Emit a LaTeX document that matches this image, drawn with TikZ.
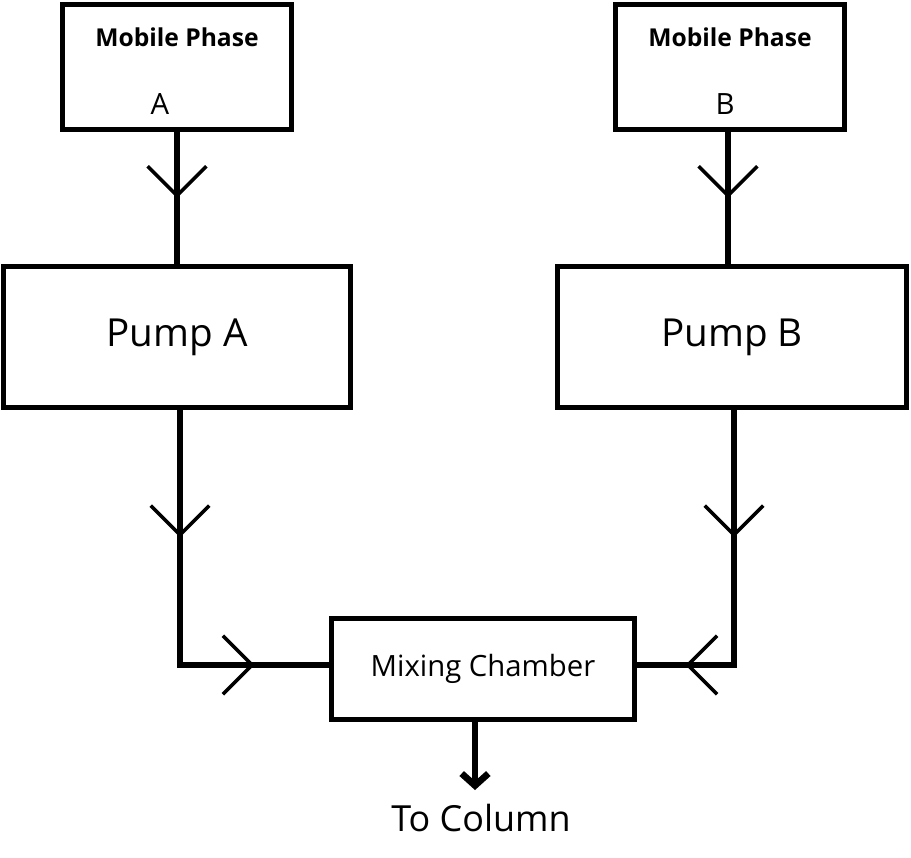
\documentclass[tikz,border=0pt]{standalone}
\usepackage{fontspec}
\setmainfont{Open Sans}
\usetikzlibrary{arrows.meta}
\usetikzlibrary{decorations.markings}

\begin{document}
\begin{tikzpicture}[x=0.0264cm,y=-0.0264cm,line width=3.8pt,
    box/.style={draw,rectangle,inner sep=0pt},
    flow/.style={postaction={decorate},decoration={markings,
      mark=at position .5 with {\arrow[line width=2.6pt]{Straight Barb[length=22pt,width=44pt]}}}}]
  \useasboundingbox (0,0) rectangle (911,858);
  % reservoirs
  \node (mpa) [box,minimum width=230*0.748pt,minimum height=125*0.748pt] at (177,67) {};
  \node at (177,37) {\fontsize{18.5}{22}\selectfont\bfseries Mobile Phase};
  \node at (160,104) {\fontsize{22}{26}\selectfont A};
  \node (mpb) [box,minimum width=230*0.748pt,minimum height=125*0.748pt] at (730,67) {};
  \node at (730,37) {\fontsize{18.5}{22}\selectfont\bfseries Mobile Phase};
  \node at (725,104) {\fontsize{22}{26}\selectfont B};
  % pumps
  \node (pa) [box,minimum width=349*0.748pt,minimum height=141*0.748pt] at (177,337)
    {\fontsize{29}{34}\selectfont Pump A};
  \node (pb) [box,minimum width=350*0.748pt,minimum height=141*0.748pt] at (732,337)
    {\fontsize{29}{34}\selectfont Pump B};
  % mixer
  \node (mc) [box,minimum width=304*0.748pt,minimum height=102*0.748pt] at (483,669)
    {\fontsize{22}{26}\selectfont Mixing Chamber};
  \node (tc) at (481,818) {\fontsize{27}{32}\selectfont To Column};
  \coordinate (ca) at (180,665);
  \coordinate (cb) at (734,665);
  \coordinate (mo) at (475,790);
  \draw[flow] (mpa.south -| 177,0) -- (pa.north -| 177,0);
  \draw[flow] (mpb.south -| 728,0) -- (pb.north -| 728,0);
  \draw (pa.south -| ca) -- (ca) -- (mc.west |- ca);
  \draw (pb.south -| cb) -- (cb) -- (mc.east |- cb);
  \path[flow] (pa.south -| ca) -- (ca);
  \path[flow] (ca) -- (mc.west |- ca);
  \path[flow] (pb.south -| cb) -- (cb);
  \path[flow] (cb) -- (mc.east |- cb);
  \draw[line width=5pt,-{Straight Barb[length=9pt,width=20pt]}] (mc.south -| mo) -- (mo);
\end{tikzpicture}
\end{document}
